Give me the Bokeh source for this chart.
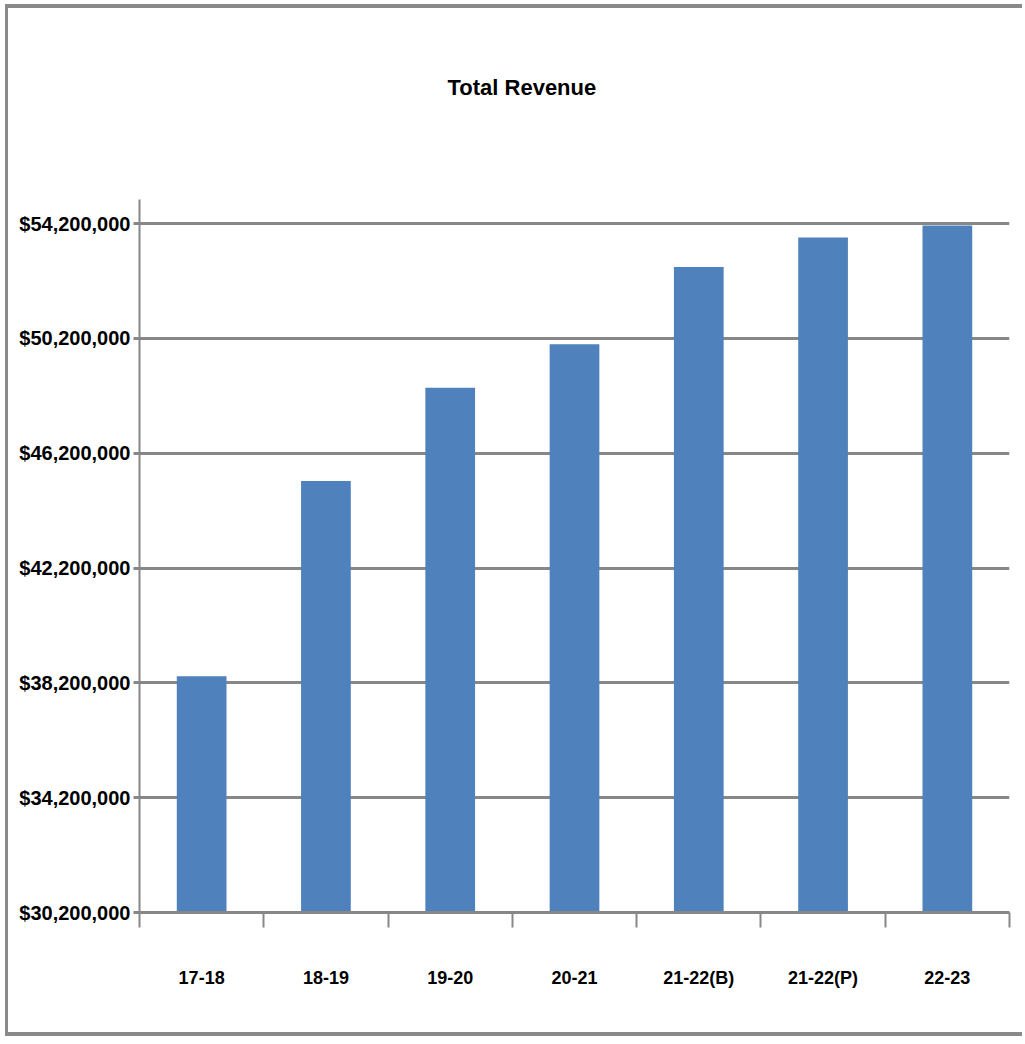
from bokeh.plotting import figure
from bokeh.models import FixedTicker, Range1d, Title
from bokeh.embed import file_html
from bokeh.resources import INLINE

categories = ["17-18", "18-19", "19-20", "20-21", "21-22(B)", "21-22(P)", "22-23"]
revenue = [38430000, 45230000, 48480000, 50000000, 52690000, 53720000, 54130000]
y_ticks = [30200000, 34200000, 38200000, 42200000, 46200000, 50200000, 54200000]
y_tick_labels = ["$30,200,000", "$34,200,000", "$38,200,000", "$42,200,000",
                 "$46,200,000", "$50,200,000", "$54,200,000"]
title_text = "Total Revenue"

FONT = "Liberation Sans"
GRID = "#878787"
BAR = "#4F81BD"

OX, OY = 8, 8  # canvas origin inside the outer frame
W, H = 1025 - OX, 1040 - OY
p = figure(width=W, height=H, output_backend="svg", toolbar_location=None,
           x_range=Range1d(0, len(categories)), y_range=Range1d(30200000, 55040000),
           min_border_left=139 - OX, min_border_right=W - (1009 - OX),
           min_border_top=199 - OY, min_border_bottom=H - (912 - OY),
           title=None)
p.outline_line_color = None
p.background_fill_color = "white"
p.border_fill_color = "white"
p.margin = (4, 0, 0, 5)
p.styles = {"border-top": "4px solid #8a8a8a", "border-left": "3px solid #8a8a8a",
            "border-bottom": "4px solid #8a8a8a"}

xs = [i + 0.5 for i in range(len(categories))]
p.vbar(x=xs, top=revenue, bottom=30200000, width=0.4, fill_color=BAR, line_color=None)

# y axis
p.yaxis.ticker = FixedTicker(ticks=y_ticks)
p.yaxis.major_label_overrides = {t: s for t, s in zip(y_ticks, y_tick_labels)}
p.yaxis.axis_line_color = GRID
p.yaxis.axis_line_width = 2
p.yaxis.major_tick_line_color = GRID
p.yaxis.major_tick_line_width = 3
p.yaxis.major_tick_out = 6
p.yaxis.major_tick_in = 0
p.yaxis.minor_tick_line_color = None
p.yaxis.major_label_text_font = FONT
p.yaxis.major_label_text_font_style = "bold"
p.yaxis.major_label_text_font_size = "20px"
p.yaxis.major_label_text_color = "black"
p.yaxis.major_label_standoff = 3

# x axis
p.xaxis.ticker = FixedTicker(ticks=xs, minor_ticks=list(range(len(categories) + 1)))
p.xaxis.major_label_overrides = {x: c for x, c in zip(xs, categories)}
p.xaxis.axis_line_color = GRID
p.xaxis.axis_line_width = 3
p.xaxis.major_tick_line_color = None
p.xaxis.major_tick_out = 0
p.xaxis.major_tick_in = 0
p.xaxis.minor_tick_line_color = GRID
p.xaxis.minor_tick_line_width = 2
p.xaxis.minor_tick_out = 15
p.xaxis.minor_tick_in = 0
p.xaxis.major_label_text_font = FONT
p.xaxis.major_label_text_font_style = "bold"
p.xaxis.major_label_text_font_size = "18px"
p.xaxis.major_label_text_color = "black"
p.xaxis.major_label_standoff = 40

p.xgrid.grid_line_color = None
p.ygrid.ticker = FixedTicker(ticks=y_ticks[1:])
p.ygrid.grid_line_color = GRID
p.ygrid.grid_line_width = 3

# spacer panel between the plot area and the title
spacer = Title(text=" ", text_font_size="10px", standoff=87)
p.add_layout(spacer, "above")
t = Title(text=title_text, align="left", offset=447 - 139, standoff=0,
          text_font=FONT, text_font_style="bold", text_font_size="22px",
          text_color="black")
p.add_layout(t, "above")

open("out.html", "w").write(file_html(p, INLINE))
